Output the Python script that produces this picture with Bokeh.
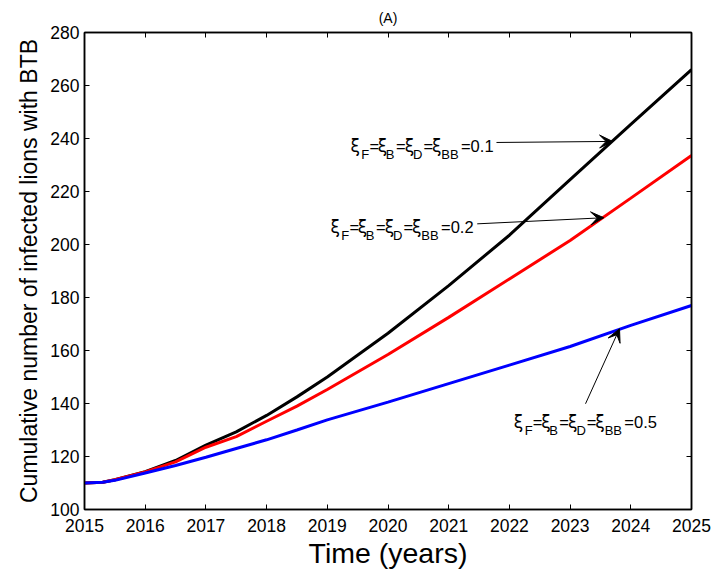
from bokeh.plotting import figure
from bokeh.models import Label, Arrow, VeeHead, Range1d, FixedTicker, LinearAxis
from bokeh.embed import file_html
from bokeh.resources import INLINE

# ---- data ----
years = [2015.0, 2015.3, 2015.5, 2016.0, 2016.5, 2017.0, 2017.5, 2018.0, 2018.5, 2019.0,
         2020.0, 2021.0, 2022.0, 2023.0, 2024.0, 2025.0]
xi_01 = [110.0, 110.3, 111.2, 114.3, 118.5, 124.3, 129.3, 135.5, 142.5, 150.0,
         166.5, 184.5, 203.5, 224.5, 245.3, 266.0]
xi_02 = [110.0, 110.3, 111.2, 114.2, 118.0, 123.5, 127.5, 133.3, 139.0, 145.3,
         158.5, 172.5, 187.0, 201.5, 217.5, 233.6]
xi_05 = [110.0, 110.3, 111.0, 113.8, 116.6, 119.7, 123.0, 126.3, 130.0, 133.8,
         140.5, 147.5, 154.5, 161.5, 169.5, 177.0]

x_ticks = [2015, 2016, 2017, 2018, 2019, 2020, 2021, 2022, 2023, 2024, 2025]
y_ticks = [100, 120, 140, 160, 180, 200, 220, 240, 260, 280]

title_text = "(A)"
ann_values = ["0.1", "0.2", "0.5"]
ann_text_x = [2019.382, 2019.053, 2022.073]
ann_text_y = [237.1, 206.5, 132.9]
arrow_tail_x = [2021.787, 2021.47, 2023.254]
arrow_tail_y = [238.5, 207.8, 139.9]
arrow_head_x = [2023.70, 2023.555, 2023.814]
arrow_head_y = [238.9, 210.1, 168.2]

FONT = "Liberation Sans"

p = figure(width=715, height=575, output_backend="svg", toolbar_location=None,
           x_range=Range1d(2015, 2025), y_range=Range1d(100, 280),
           min_border_left=84, min_border_right=24, min_border_top=32,
           min_border_bottom=66, background_fill_color="white",
           border_fill_color="white")
p.grid.visible = False
p.outline_line_color = "black"
p.outline_line_width = 1.5

p.title.text = title_text
p.title.align = "center"
p.title.vertical_align = "top"
p.title.text_font = FONT
p.title.text_font_size = "14px"
p.title.text_font_style = "normal"
p.title.text_color = "black"
p.title.standoff = 10

for ax, ticks in ((p.xaxis[0], x_ticks), (p.yaxis[0], y_ticks)):
    ax.ticker = FixedTicker(ticks=ticks)
    ax.major_tick_in = 5
    ax.major_tick_out = 0
    ax.minor_tick_line_color = None
    ax.axis_line_width = 1.5
    ax.major_label_text_font = FONT
    ax.major_label_text_font_size = "17.5px"
    ax.major_label_text_color = "black"
    ax.axis_label_text_font = FONT
    ax.axis_label_text_font_style = "normal"
    ax.axis_label_text_color = "black"

p.xaxis.major_label_standoff = 9
p.xaxis.axis_label = "Time (years)"
p.xaxis.axis_label_text_font_size = "28.5px"
p.xaxis.axis_label_standoff = 2
p.yaxis.axis_label = "Cumulative number of infected lions with BTB"
p.yaxis.axis_label_text_font_size = "23px"
p.yaxis.axis_label_standoff = 5

for loc, ticks in (("above", x_ticks), ("right", y_ticks)):
    ax = LinearAxis(ticker=FixedTicker(ticks=ticks), major_tick_in=5, major_tick_out=0,
                    minor_tick_line_color=None, major_label_text_color=None,
                    major_label_text_font_size="10px",
                    major_label_standoff=0, axis_line_width=1.5)
    p.add_layout(ax, loc)

p.line(years, xi_01, line_color="black", line_width=3)
p.line(years, xi_02, line_color="red", line_width=3)
p.line(years, xi_05, line_color="blue", line_width=3)

# annotation text pieces: (text, is_subscript, x offset in px)
layout = [("ξ", False, 0), ("F", True, 10.8), ("=", False, 19.0), ("ξ", False, 27.3),
          ("B", True, 35.3), ("=", False, 45.5), ("ξ", False, 54.2), ("D", True, 62.6),
          ("=", False, 73.0), ("ξ", False, 81.5), ("BB", True, 90.8)]

for i, val in enumerate(ann_values):
    pieces = layout + [("=" + val, False, 110.5)]
    for txt, sub, dx in pieces:
        is_xi = txt == "ξ"
        p.add_layout(Label(x=ann_text_x[i], y=ann_text_y[i], x_offset=dx,
                           y_offset=-8.6 if sub else 0, text=txt,
                           text_font="DejaVu Sans" if is_xi else FONT,
                           text_font_size="13px" if sub else ("17px" if is_xi else "16.5px"),
                           text_color="black", text_baseline="alphabetic",
                           text_align="left"))
    p.add_layout(Arrow(x_start=arrow_tail_x[i], y_start=arrow_tail_y[i],
                       x_end=arrow_head_x[i], y_end=arrow_head_y[i],
                       line_color="black", line_width=1,
                       end=VeeHead(size=13, fill_color="black", line_color="black")))

open("out.html", "w").write(file_html(p, INLINE))
